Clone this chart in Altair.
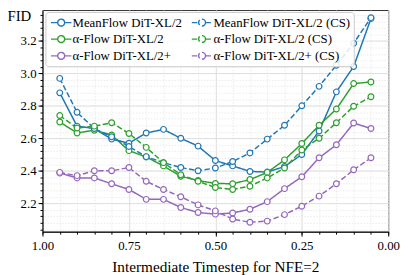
import altair as alt
import pandas as pd

timesteps = [0.95, 0.90, 0.85, 0.80, 0.75, 0.70, 0.65, 0.60, 0.55, 0.50,
             0.45, 0.40, 0.35, 0.30, 0.25, 0.20, 0.15, 0.10, 0.05]

meanflow = [2.88, 2.675, 2.66, 2.595, 2.57, 2.633, 2.655, 2.60, 2.552, 2.463,
            2.43, 2.396, 2.392, 2.426, 2.50, 2.645, 2.886, 3.042, 3.337]
meanflow_cs = [2.969, 2.76, 2.66, 2.61, 2.55, 2.487, 2.45, 2.42, 2.40, 2.417,
               2.457, 2.51, 2.595, 2.68, 2.80, 2.92, 3.05, 3.185, 3.343]
alpha = [2.70, 2.633, 2.65, 2.62, 2.524, 2.485, 2.43, 2.366, 2.34, 2.322,
         2.32, 2.346, 2.39, 2.467, 2.568, 2.68, 2.78, 2.937, 2.947]
alpha_cs = [2.74, 2.663, 2.675, 2.696, 2.63, 2.544, 2.45, 2.376, 2.335, 2.297,
            2.285, 2.305, 2.356, 2.417, 2.528, 2.60, 2.696, 2.797, 2.856]
alpha_plus = [2.386, 2.356, 2.356, 2.32, 2.285, 2.224, 2.224, 2.174, 2.143, 2.133,
              2.14, 2.163, 2.21, 2.29, 2.363, 2.48, 2.56, 2.694, 2.66]
alpha_plus_cs = [2.39, 2.37, 2.40, 2.40, 2.42, 2.335, 2.285, 2.24, 2.19, 2.153,
                 2.103, 2.083, 2.09, 2.13, 2.182, 2.244, 2.32, 2.406, 2.48]

# legend is filled column by column: solid series first, then CS series
series_names = [
    "MeanFlow DiT-XL/2", "α-Flow DiT-XL/2", "α-Flow DiT-XL/2+",
    "MeanFlow DiT-XL/2 (CS)", "α-Flow DiT-XL/2 (CS)", "α-Flow DiT-XL/2+ (CS)",
]
series_values = [meanflow, alpha, alpha_plus, meanflow_cs, alpha_cs, alpha_plus_cs]
series_colors = ["#1f77b4", "#2ca02c", "#9467bd", "#1f77b4", "#2ca02c", "#9467bd"]
series_dash = [[1, 0], [1, 0], [1, 0], [5.5, 2.5], [5.5, 2.5], [5.5, 2.5]]

x_major = [1.0, 0.75, 0.5, 0.25, 0.0]
x_minor = [round(i * 0.05, 2) for i in range(21)]
y_major = [2.2, 2.4, 2.6, 2.8, 3.0, 3.2]
y_minor = [round(2.04 + i * 0.04, 2) for i in range(34)]

rows = []
for name, vals in zip(series_names, series_values):
    for t, v in zip(timesteps, vals):
        rows.append({"t": t, "fid": v, "series": name})
df = pd.DataFrame(rows)

FONT = "Liberation Serif"
xscale = alt.Scale(domain=[0, 1], reverse=True, nice=False, zero=False)
yscale = alt.Scale(domain=[2.025, 3.39], nice=False, zero=False)
cscale = alt.Scale(domain=series_names, range=series_colors)
dscale = alt.Scale(domain=series_names, range=series_dash)

legend_path = ("M-1.6,0H-0.54M0.54,0H1.6M0.54,0A0.54,0.54,0,1,1,-0.54,0"
               "A0.54,0.54,0,1,1,0.54,0")


def make_legend():
    return alt.Legend(
        title=None, orient="none", legendX=3, legendY=2, columns=2,
        symbolType=legend_path, symbolSize=169, symbolStrokeWidth=1.4,
        symbolOffset=5.5,
        labelFontSize=13, labelFont=FONT, labelColor="black", labelOffset=4,
        rowPadding=2, columnPadding=6, padding=3,
        fillColor="rgba(255,255,255,0.85)", strokeColor="#cccccc", cornerRadius=3)


minor = alt.Chart(df).mark_point(opacity=0).encode(
    x=alt.X("t:Q", scale=xscale, axis=alt.Axis(
        orient="bottom", values=x_minor, labels=False, title=None,
        tickSize=2.5, tickColor="black", domain=False,
        grid=True, gridColor="#e6e6e6", gridDash=[1.5, 1.5], gridWidth=0.8)),
    y=alt.Y("fid:Q", scale=yscale, axis=alt.Axis(
        orient="left", values=y_minor, labels=False, title=None,
        tickSize=2.5, tickColor="black", domain=False,
        grid=True, gridColor="#e6e6e6", gridDash=[1.5, 1.5], gridWidth=0.8)),
)

lines = alt.Chart(df).mark_line(strokeWidth=1.5).encode(
    x=alt.X("t:Q", scale=xscale, axis=alt.Axis(
        orient="bottom", values=x_major, format=".2f", labelFlush=False,
        title="Intermediate Timestep for NFE=2",
        grid=True, gridColor="#d9d9d9", gridWidth=0.8,
        tickSize=4.5, tickColor="black", domainColor="black",
        labelFontSize=13, labelPadding=3.5, labelColor="black",
        titleFontSize=15.5, titleFontWeight="normal", titleColor="black",
        titlePadding=7)),
    y=alt.Y("fid:Q", scale=yscale, axis=alt.Axis(
        orient="left", values=y_major, format=".1f", labelFlush=False,
        title="FID", titleAngle=0, titleX=-24, titleY=6,
        titleAlign="center", titleBaseline="middle",
        grid=True, gridColor="#d9d9d9", gridWidth=0.8,
        tickSize=4.5, tickColor="black", domainColor="black",
        labelFontSize=13, labelPadding=2, labelColor="black",
        titleFontSize=15, titleFontWeight="normal", titleColor="black")),
    color=alt.Color("series:N", scale=cscale, sort=series_names, legend=make_legend()),
    strokeDash=alt.StrokeDash("series:N", scale=dscale, sort=series_names,
                              legend=make_legend()),
    detail="series:N",
)

points = alt.Chart(df).mark_point(
    filled=False, fill="white", fillOpacity=1, size=34, strokeWidth=1.2, opacity=1
).encode(
    x=alt.X("t:Q", scale=xscale, axis=None),
    y=alt.Y("fid:Q", scale=yscale, axis=None),
    color=alt.Color("series:N", scale=cscale, legend=None),
)

chart = alt.layer(minor, lines, points).resolve_axis(
    x="independent", y="independent"
).properties(
    width=351, height=225,
    autosize=alt.AutoSizeParams(type="none"),
    padding={"left": 35, "top": 0, "right": 16, "bottom": 47},
).configure(font=FONT).configure_view(stroke="#333333", strokeWidth=1)

chart.save("out.html", embed_options={"renderer": "svg", "actions": False})
